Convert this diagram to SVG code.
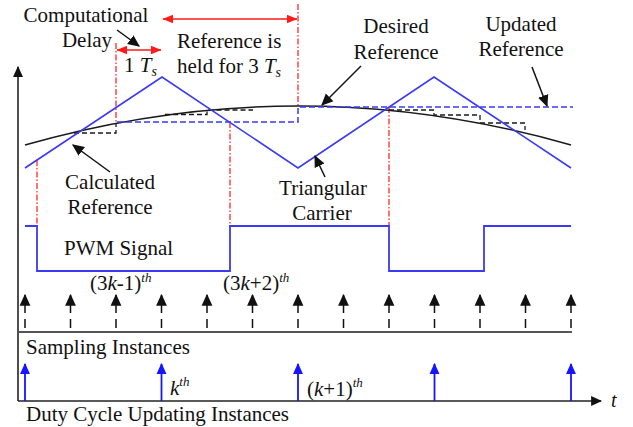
<svg xmlns="http://www.w3.org/2000/svg" width="633" height="427" viewBox="0 0 633 427">
  <style>
    text { font-family: "Liberation Serif", "Times New Roman", serif; font-size: 21px; fill: #111; }
    .mid { text-anchor: middle; }
    .it { font-style: italic; }
    .sup { font-style: italic; font-size: 13px; }
    .sub { font-style: italic; font-size: 14px; }
    .axis { stroke: #222; stroke-width: 1.6; fill: none; }
    .base { stroke: #555; stroke-width: 2; fill: none; }
    .carrier { stroke: #3a3af5; stroke-width: 1.6; fill: none; }
    .pwm { stroke: #3a3af5; stroke-width: 1.8; fill: none; }
    .curve { stroke: #1a1a1a; stroke-width: 1.5; fill: none; }
    .held { stroke: #3a3af5; stroke-width: 1.5; fill: none; stroke-dasharray: 6 3; }
    .stair { stroke: #1a1a1a; stroke-width: 1.3; fill: none; stroke-dasharray: 5 3; }
    .redline { stroke: #ff2a2a; stroke-width: 1.3; fill: none; stroke-dasharray: 6 2 1.5 2; }
    .span { stroke: #ff1a1a; stroke-width: 1.6; fill: none; }
    .pointer { stroke: #111; stroke-width: 1.5; fill: none; }
    .sample { stroke: #111; stroke-width: 1.5; fill: none; }
    .update { stroke: #1515ff; stroke-width: 1.8; fill: none; }
  </style>
  <defs>
    <marker id="headBlack" markerUnits="userSpaceOnUse" markerWidth="12" markerHeight="12" viewBox="0 0 10 10" refX="9" refY="5" orient="auto">
      <path d="M0,0.5 L10,5 L0,9.5 z" fill="#111"/>
    </marker>
    <marker id="headAxis" markerUnits="userSpaceOnUse" markerWidth="11" markerHeight="11" viewBox="0 0 10 10" refX="9" refY="5" orient="auto">
      <path d="M0,0.5 L10,5 L0,9.5 z" fill="#111"/>
    </marker>
    <marker id="headBlue" markerUnits="userSpaceOnUse" markerWidth="11" markerHeight="11" viewBox="0 0 10 10" refX="9" refY="5" orient="auto">
      <path d="M0,0.5 L10,5 L0,9.5 z" fill="#1515ff"/>
    </marker>
    <marker id="headRed" markerUnits="userSpaceOnUse" markerWidth="11" markerHeight="9" viewBox="0 0 10 8" refX="9.5" refY="4" orient="auto-start-reverse">
      <path d="M0,0 L10,4 L0,8 z" fill="#ff1a1a"/>
    </marker>
  </defs>

  <!-- axes and time base -->
  <g id="axes">
    <line class="axis" x1="18" y1="401" x2="18" y2="67" marker-end="url(#headAxis)"/>
    <line class="axis" x1="18" y1="401" x2="601" y2="401" marker-end="url(#headAxis)"/>
    <line class="base" x1="18" y1="332" x2="572" y2="332"/>
    <text x="611" y="407" class="it" style="font-size:20px">t</text>
  </g>

  <!-- timing markers -->
  <g id="timing-lines">
    <path class="redline" d="M37 160 V226 M116 43 V122 M230 122 V226 M298 4 V107 M389 107 V226"/>
  </g>

  <!-- desired reference, staircases and held reference -->
  <g id="desired-reference">
    <path class="curve" d="M25 145 Q298 67 571 145"/>
  </g>
  <g id="calculated-reference">
    <path class="stair" d="M74 133 H116 V123"/>
    <path class="stair" d="M165 114.5 H207 V110 H253"/>
    <path class="stair" d="M389 110 H434 V115 H480 V123 H525 V130"/>
  </g>
  <g id="updated-reference">
    <path class="held" d="M117 122 H298 V107 H573"/>
  </g>

  <!-- triangular carrier -->
  <g id="carrier">
    <path class="carrier" d="M25 168 L162 77 L298 168 L434 77 L571 168"/>
  </g>

  <!-- PWM signal -->
  <g id="pwm">
    <path class="pwm" d="M25 226 H37 V271 H230 V226 H389 V271 H484 V226 H571"/>
    <text x="64" y="255">PWM Signal</text>
  </g>

  <!-- interval annotations -->
  <g id="spans">
    <line class="span" x1="117" y1="50" x2="161" y2="50" marker-start="url(#headRed)" marker-end="url(#headRed)"/>
    <line class="span" x1="163" y1="19" x2="297" y2="19" marker-start="url(#headRed)" marker-end="url(#headRed)"/>
  </g>

  <!-- labels with pointers -->
  <g id="computational-delay">
    <text x="86" y="22" class="mid">Computational</text>
    <text x="87" y="47" class="mid">Delay</text>
    <line class="pointer" x1="117" y1="30" x2="139" y2="46" marker-end="url(#headBlack)"/>
  </g>
  <g id="delay-label">
    <text x="124" y="72">1 <tspan class="it">T</tspan><tspan class="sub" dy="4">s</tspan></text>
  </g>
  <g id="held-label">
    <text x="177" y="48">Reference is</text>
    <text x="177" y="73">held for 3 <tspan class="it">T</tspan><tspan class="sub" dy="4">s</tspan></text>
  </g>
  <g id="desired-label">
    <text x="396" y="33" class="mid">Desired</text>
    <text x="396" y="59" class="mid">Reference</text>
    <line class="pointer" x1="361" y1="66" x2="322" y2="105" marker-end="url(#headBlack)"/>
  </g>
  <g id="updated-label">
    <text x="521" y="31" class="mid">Updated</text>
    <text x="521" y="56" class="mid">Reference</text>
    <line class="pointer" x1="532" y1="67" x2="547" y2="106" marker-end="url(#headBlack)"/>
  </g>
  <g id="calculated-label">
    <text x="110" y="189" class="mid">Calculated</text>
    <text x="110" y="214" class="mid">Reference</text>
    <line class="pointer" x1="110" y1="172" x2="73" y2="145" marker-end="url(#headBlack)"/>
  </g>
  <g id="carrier-label">
    <text x="323" y="195" class="mid">Triangular</text>
    <text x="322" y="220" class="mid">Carrier</text>
    <line class="pointer" x1="325" y1="177" x2="315" y2="156" marker-end="url(#headBlack)"/>
  </g>

  <!-- sampling instances -->
  <g id="sampling">
    <path class="sample" d="M25 328 V319 M25 313 V295" marker-end="url(#headBlack)"/>
    <path class="sample" d="M70.5 328 V319 M70.5 313 V295" marker-end="url(#headBlack)"/>
    <path class="sample" d="M116 328 V319 M116 313 V295" marker-end="url(#headBlack)"/>
    <path class="sample" d="M161.5 328 V319 M161.5 313 V295" marker-end="url(#headBlack)"/>
    <path class="sample" d="M207 328 V319 M207 313 V295" marker-end="url(#headBlack)"/>
    <path class="sample" d="M252.5 328 V319 M252.5 313 V295" marker-end="url(#headBlack)"/>
    <path class="sample" d="M298 328 V319 M298 313 V295" marker-end="url(#headBlack)"/>
    <path class="sample" d="M343.5 328 V319 M343.5 313 V295" marker-end="url(#headBlack)"/>
    <path class="sample" d="M389 328 V319 M389 313 V295" marker-end="url(#headBlack)"/>
    <path class="sample" d="M434.5 328 V319 M434.5 313 V295" marker-end="url(#headBlack)"/>
    <path class="sample" d="M480 328 V319 M480 313 V295" marker-end="url(#headBlack)"/>
    <path class="sample" d="M525.5 328 V319 M525.5 313 V295" marker-end="url(#headBlack)"/>
    <path class="sample" d="M571 328 V319 M571 313 V295" marker-end="url(#headBlack)"/>
    <text x="90" y="290">(3<tspan class="it">k</tspan>-1)<tspan class="sup" dy="-8">th</tspan></text>
    <text x="223" y="290">(3<tspan class="it">k</tspan>+2)<tspan class="sup" dy="-8">th</tspan></text>
    <text x="26" y="354">Sampling Instances</text>
  </g>

  <!-- duty cycle updating instances -->
  <g id="updating">
    <line class="update" x1="25" y1="401" x2="25" y2="364" marker-end="url(#headBlue)"/>
    <line class="update" x1="161.5" y1="401" x2="161.5" y2="364" marker-end="url(#headBlue)"/>
    <line class="update" x1="298" y1="401" x2="298" y2="364" marker-end="url(#headBlue)"/>
    <line class="update" x1="434.5" y1="401" x2="434.5" y2="364" marker-end="url(#headBlue)"/>
    <line class="update" x1="571" y1="401" x2="571" y2="364" marker-end="url(#headBlue)"/>
    <text x="170" y="395"><tspan class="it">k</tspan><tspan class="sup" dy="-9">th</tspan></text>
    <text x="307" y="396">(<tspan class="it">k</tspan>+1)<tspan class="sup" dy="-9">th</tspan></text>
    <text x="26" y="421">Duty Cycle Updating Instances</text>
  </g>
</svg>
